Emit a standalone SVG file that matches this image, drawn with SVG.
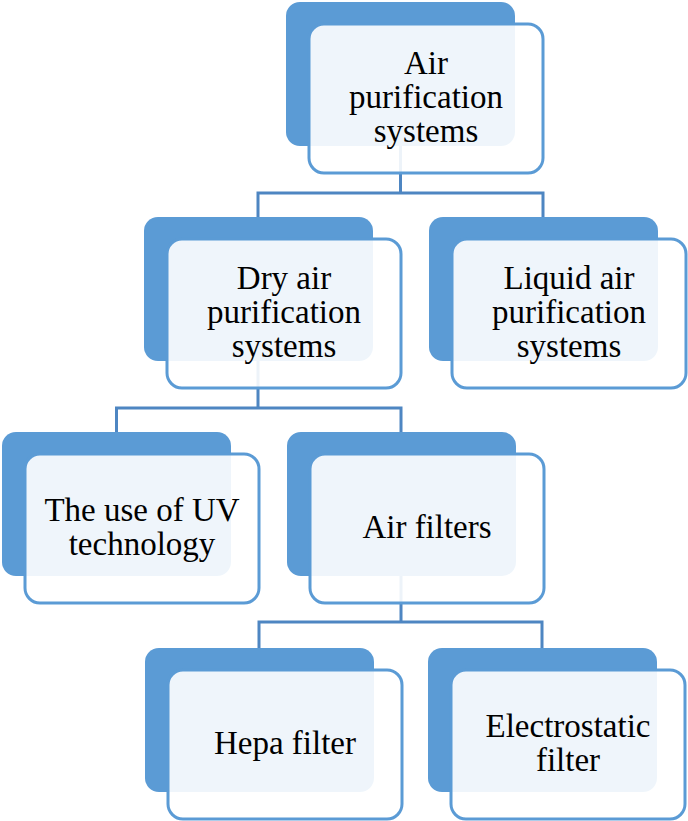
<svg xmlns="http://www.w3.org/2000/svg" width="688" height="821" viewBox="0 0 688 821">
<style>
.back{fill:#5b9bd5}
.front{fill:#ffffff;fill-opacity:0.9;stroke:#5b9bd5;stroke-width:3}
.conn{fill:none;stroke:#4e86c2;stroke-width:3}
</style>
<rect width="688" height="821" fill="#fff"/>
<g id="connectors">
<path class="conn" d="M258 217 V193 H543 V217 M400.5 146 V193"/>
<path class="conn" d="M116.5 432 V408 H401 V432 M258 361 V408"/>
<path class="conn" d="M259 648 V622 H542 V648 M401 576 V622"/>
</g>
<g id="n-air-purification">
<rect class="back" x="286" y="2" width="229" height="144" rx="14"/>
<rect class="front" x="309" y="24" width="234" height="149" rx="15"/>
<text x="426" y="74" font-family="Liberation Serif" font-size="33" text-anchor="middle">Air</text>
<text x="426" y="108" font-family="Liberation Serif" font-size="33" text-anchor="middle">purification</text>
<text x="426" y="142" font-family="Liberation Serif" font-size="33" text-anchor="middle">systems</text>
</g>
<g id="n-dry">
<rect class="back" x="144" y="217" width="229" height="144" rx="14"/>
<rect class="front" x="167" y="239" width="234" height="149" rx="15"/>
<text x="284" y="289" font-family="Liberation Serif" font-size="33" text-anchor="middle">Dry air</text>
<text x="284" y="323" font-family="Liberation Serif" font-size="33" text-anchor="middle">purification</text>
<text x="284" y="357" font-family="Liberation Serif" font-size="33" text-anchor="middle">systems</text>
</g>
<g id="n-liquid">
<rect class="back" x="429" y="217" width="229" height="144" rx="14"/>
<rect class="front" x="452" y="239" width="234" height="149" rx="15"/>
<text x="569" y="289" font-family="Liberation Serif" font-size="33" text-anchor="middle">Liquid air</text>
<text x="569" y="323" font-family="Liberation Serif" font-size="33" text-anchor="middle">purification</text>
<text x="569" y="357" font-family="Liberation Serif" font-size="33" text-anchor="middle">systems</text>
</g>
<g id="n-uv">
<rect class="back" x="2" y="432" width="229" height="144" rx="14"/>
<rect class="front" x="25" y="454" width="234" height="149" rx="15"/>
<text x="142" y="521" font-family="Liberation Serif" font-size="33" text-anchor="middle">The use of UV</text>
<text x="142" y="555" font-family="Liberation Serif" font-size="33" text-anchor="middle">technology</text>
</g>
<g id="n-air-filters">
<rect class="back" x="287" y="432" width="229" height="144" rx="14"/>
<rect class="front" x="310" y="454" width="234" height="149" rx="15"/>
<text x="427" y="538" font-family="Liberation Serif" font-size="33" text-anchor="middle">Air filters</text>
</g>
<g id="n-hepa">
<rect class="back" x="145" y="648" width="229" height="144" rx="14"/>
<rect class="front" x="168" y="670" width="234" height="149" rx="15"/>
<text x="285" y="754" font-family="Liberation Serif" font-size="33" text-anchor="middle">Hepa filter</text>
</g>
<g id="n-electrostatic">
<rect class="back" x="428" y="648" width="229" height="144" rx="14"/>
<rect class="front" x="451" y="670" width="234" height="149" rx="15"/>
<text x="568" y="737" font-family="Liberation Serif" font-size="33" text-anchor="middle">Electrostatic</text>
<text x="568" y="771" font-family="Liberation Serif" font-size="33" text-anchor="middle">filter</text>
</g>
</svg>
